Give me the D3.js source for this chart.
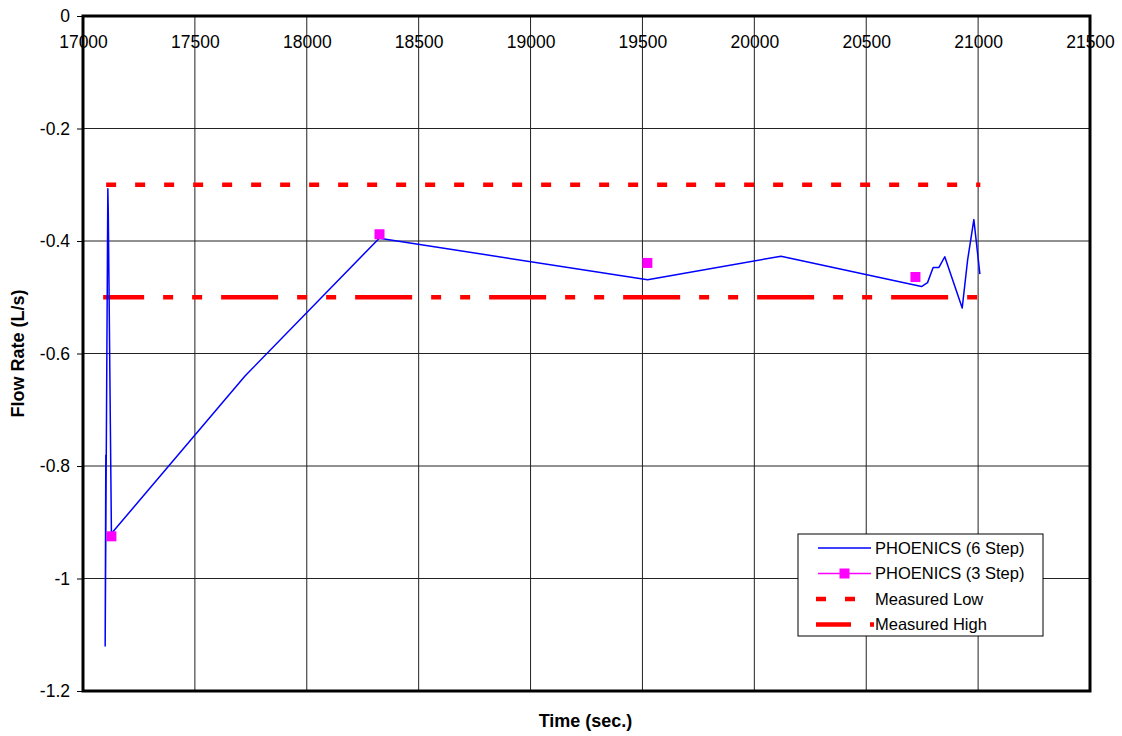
<!DOCTYPE html>
<html>
<head>
<meta charset="utf-8">
<script src="https://cdn.jsdelivr.net/npm/d3@7"></script>
<style>
  body { margin: 0; background: #fff; }
  text { font-family: Arial, "Liberation Sans", sans-serif; }
</style>
</head>
<body>
<div id="chart"></div>
<script>
// PHOENICS 6 step run: time (s), flow rate (L/s)
const sixStepTime = [17102, 17099, 17111, 17113, 17127, 17724, 18324, 19523, 20119, 20747, 20774, 20799, 20825, 20851, 20929, 20953, 20981, 21008];
const sixStepFlow = [-0.78, -1.12, -0.307, -0.35, -0.92, -0.64, -0.395, -0.469, -0.427, -0.481, -0.474, -0.447, -0.447, -0.428, -0.519, -0.434, -0.362, -0.459];

// PHOENICS 3 step run (markers only)
const threeStepTime = [17127, 18325, 19522, 20720];
const threeStepFlow = [-0.925, -0.388, -0.439, -0.464];

// measured band
const measuredTime = [17090, 21010];
const measuredLow = [-0.3, -0.3];
const measuredHigh = [-0.5, -0.5];

const xTicks = [17000, 17500, 18000, 18500, 19000, 19500, 20000, 20500, 21000, 21500];
const yTicks = [0, -0.2, -0.4, -0.6, -0.8, -1, -1.2];

const width = 1122, height = 736;
const margin = { left: 83, top: 16, right: 32, bottom: 45 };
const plotW = width - margin.left - margin.right;
const plotH = height - margin.top - margin.bottom;

const svg = d3.select("#chart").append("svg")
    .attr("width", width)
    .attr("height", height);

const g = svg.append("g")
    .attr("transform", `translate(${margin.left},${margin.top})`);

const x = d3.scaleLinear().domain([17000, 21500]).range([0, plotW]);
const y = d3.scaleLinear().domain([0, -1.2]).range([0, plotH]);

// grid lines
g.append("g").selectAll("line")
    .data(xTicks)
    .enter().append("line")
    .attr("x1", d => x(d)).attr("x2", d => x(d))
    .attr("y1", 0).attr("y2", plotH)
    .attr("stroke", "#222").attr("stroke-width", 1);

g.append("g").selectAll("line")
    .data(yTicks)
    .enter().append("line")
    .attr("x1", 0).attr("x2", plotW)
    .attr("y1", d => y(d)).attr("y2", d => y(d))
    .attr("stroke", "#222").attr("stroke-width", 1);

// x axis labels sit under the top (zero) line
const xAxis = g.append("g")
    .call(d3.axisBottom(x).tickValues(xTicks).tickSize(0).tickPadding(20).tickFormat(d => String(d)));
xAxis.select(".domain").remove();
xAxis.selectAll("text").attr("font-size", 17.5).attr("fill", "#000")
    .attr("font-family", "Arial, 'Liberation Sans', sans-serif");

const yAxis = g.append("g")
    .call(d3.axisLeft(y).tickValues(yTicks).tickSize(6).tickPadding(7).tickFormat(d => String(+d.toFixed(1))));
yAxis.select(".domain").remove();
yAxis.selectAll("line").attr("stroke", "#000");
yAxis.selectAll("text").attr("font-size", 17.5).attr("fill", "#000")
    .attr("font-family", "Arial, 'Liberation Sans', sans-serif");

// measured lines
const flat = d3.line().x(d => x(d[0])).y(d => y(d[1]));
g.append("path")
    .datum(measuredTime.map((t, i) => [t, measuredLow[i]]))
    .attr("d", flat)
    .attr("fill", "none").attr("stroke", "#ff0000").attr("stroke-width", 4.5)
    .attr("stroke-dasharray", "10,19").attr("stroke-dashoffset", -3);

g.append("path")
    .datum(measuredTime.map((t, i) => [t, measuredHigh[i]]))
    .attr("d", flat)
    .attr("fill", "none").attr("stroke", "#ff0000").attr("stroke-width", 4.5)
    .attr("stroke-dasharray", "57,19,10,19,10,19").attr("stroke-dashoffset", 16);

// 6 step line
g.append("path")
    .datum(sixStepTime.map((t, i) => [t, sixStepFlow[i]]))
    .attr("d", flat)
    .attr("fill", "none").attr("stroke", "#0000ff").attr("stroke-width", 1.5)
    .attr("stroke-linejoin", "round");

// 3 step markers
g.append("g").selectAll("rect")
    .data(threeStepTime.map((t, i) => [t, threeStepFlow[i]]))
    .enter().append("rect")
    .attr("x", d => x(d[0]) - 5).attr("y", d => y(d[1]) - 5)
    .attr("width", 10).attr("height", 10)
    .attr("fill", "#ff00ff");

// plot frame
g.append("rect")
    .attr("width", plotW).attr("height", plotH)
    .attr("fill", "none").attr("stroke", "#000").attr("stroke-width", 3);

// axis titles
svg.append("text")
    .attr("x", margin.left + plotW / 2 - 1).attr("y", 727)
    .attr("text-anchor", "middle")
    .attr("font-size", 18).attr("font-weight", "bold")
    .text("Time (sec.)");

svg.append("text")
    .attr("transform", `translate(24, ${margin.top + plotH / 2}) rotate(-90)`)
    .attr("text-anchor", "middle")
    .attr("font-size", 18).attr("font-weight", "bold")
    .text("Flow Rate (L/s)");

// legend
const legendItems = ["PHOENICS (6 Step)", "PHOENICS (3 Step)", "Measured Low", "Measured High"];
const legend = svg.append("g").attr("transform", "translate(798,534)");
legend.append("rect")
    .attr("width", 245).attr("height", 102)
    .attr("fill", "#fff").attr("stroke", "#000").attr("stroke-width", 1);

const rowY = [14, 39.5, 65, 90.5];
legendItems.forEach((name, i) => {
    const ly = rowY[i];
    if (i === 0) {
        legend.append("line").attr("x1", 20).attr("x2", 73).attr("y1", ly).attr("y2", ly)
            .attr("stroke", "#0000ff").attr("stroke-width", 1.5);
    } else if (i === 1) {
        legend.append("line").attr("x1", 20).attr("x2", 73).attr("y1", ly).attr("y2", ly)
            .attr("stroke", "#ff00ff").attr("stroke-width", 1.5);
        legend.append("rect").attr("x", 41.5).attr("y", ly - 5).attr("width", 10).attr("height", 10)
            .attr("fill", "#ff00ff");
    } else if (i === 2) {
        legend.append("line").attr("x1", 18).attr("x2", 57).attr("y1", ly).attr("y2", ly)
            .attr("stroke", "#ff0000").attr("stroke-width", 4.5).attr("stroke-dasharray", "10,19");
    } else {
        legend.append("line").attr("x1", 18).attr("x2", 76).attr("y1", ly).attr("y2", ly)
            .attr("stroke", "#ff0000").attr("stroke-width", 4.5).attr("stroke-dasharray", "35,19,4,50");
    }
    legend.append("text")
        .attr("x", 77).attr("y", ly).attr("dy", "0.35em")
        .attr("font-size", 16.5).attr("fill", "#000")
        .text(name);
});
</script>
</body>
</html>
